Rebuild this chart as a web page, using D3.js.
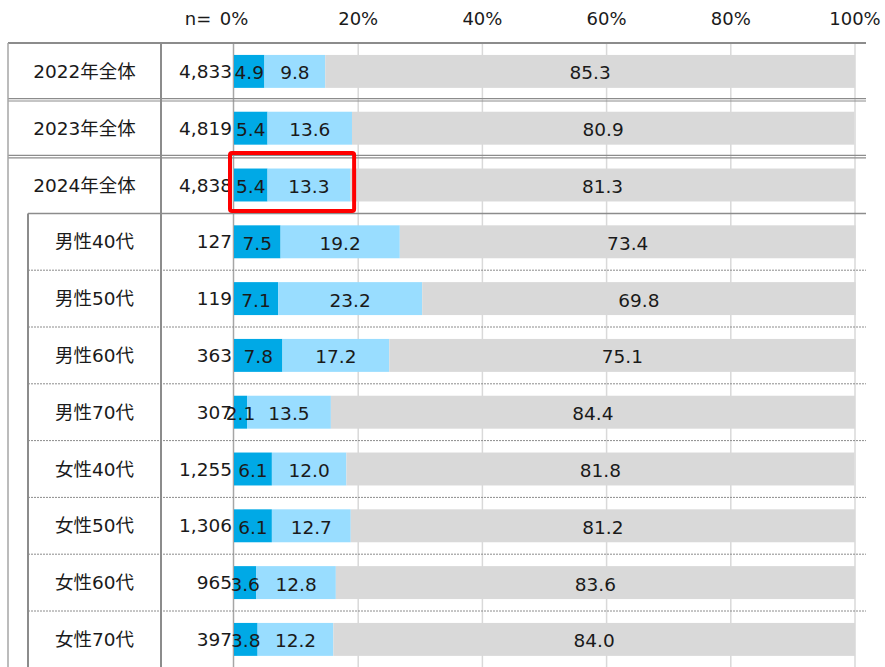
<!DOCTYPE html>
<html>
<head>
<meta charset="utf-8">
<script src="https://cdn.jsdelivr.net/npm/d3@7"></script>
<style>
    body { margin: 0; background: #fff; }
    text { font-family: "DejaVu Sans", "Noto Sans CJK JP", sans-serif; fill: #1a1a1a; }
</style>
</head>
<body>
<div id="chart"></div>
<script>
var categories = ["2022年全体", "2023年全体", "2024年全体", "男性40代", "男性50代", "男性60代", "男性70代",
    "女性40代", "女性50代", "女性60代", "女性70代"];
var nValues = ["4,833", "4,819", "4,838", "127", "119", "363", "307", "1,255", "1,306", "965", "397"];
var seriesA = [4.9, 5.4, 5.4, 7.5, 7.1, 7.8, 2.1, 6.1, 6.1, 3.6, 3.8];
var seriesB = [9.8, 13.6, 13.3, 19.2, 23.2, 17.2, 13.5, 12.0, 12.7, 12.8, 12.2];
var seriesC = [85.3, 80.9, 81.3, 73.4, 69.8, 75.1, 84.4, 81.8, 81.2, 83.6, 84.0];
var tickValues = [0, 20, 40, 60, 80, 100];
var totalRows = 3; // rows before the sub groups

var width = 885,
    height = 667,
    tableLeft = 8,
    groupLeft = 28,
    nCol = 161,
    tableRight = 866,
    topY = 43;

var svg = d3.select("#chart").append("svg")
    .attr("width", width)
    .attr("height", height);

var x = d3.scaleLinear().domain([0, 100]).range([234, 855]);
var y = d3.scaleBand().domain(categories).range([topY, topY + 56.8 * categories.length]);
var barH = y.bandwidth() * 0.58;

var colors = ["#00a9e6", "#99ddff", "#d9d9d9"];

var rows = categories.map(function(c, i) {
    return { cat: c, n: nValues[i], vals: [seriesA[i], seriesB[i], seriesC[i]] };
});

// gridlines
svg.selectAll(".grid")
    .data(tickValues.slice(1))
    .enter().append("line")
    .attr("x1", function(d) { return x(d); })
    .attr("x2", function(d) { return x(d); })
    .attr("y1", topY)
    .attr("y2", height)
    .style("stroke", "#d9d9d9")
    .style("stroke-width", 1.5);

// tick labels
svg.selectAll(".tick")
    .data(tickValues)
    .enter().append("text")
    .attr("x", function(d) { return x(d); })
    .attr("y", 18)
    .attr("text-anchor", "middle")
    .attr("dominant-baseline", "central")
    .style("font-size", "18px")
    .text(function(d) { return d + "%"; });

svg.append("text")
    .attr("x", 198)
    .attr("y", 18)
    .attr("text-anchor", "middle")
    .attr("dominant-baseline", "central")
    .style("font-size", "18px")
    .text("n=");

var rowG = svg.selectAll(".row")
    .data(rows)
    .enter().append("g")
    .attr("transform", function(d) { return "translate(0," + (y(d.cat) + y.bandwidth() / 2) + ")"; });

// n values (drawn under the bars)
rowG.append("text")
    .attr("x", 232)
    .attr("y", 0)
    .attr("text-anchor", "end")
    .attr("dominant-baseline", "central")
    .style("font-size", "18.5px")
    .text(function(d) { return d.n; });

// category labels
rowG.append("text")
    .attr("x", function(d, i) { return i < totalRows ? (tableLeft + nCol) / 2 : (groupLeft + nCol) / 2; })
    .attr("y", 0)
    .attr("text-anchor", "middle")
    .attr("dominant-baseline", "central")
    .style("font-size", "18.5px")
    .text(function(d) { return d.cat; });

// stacked segments
function segs(d) {
    var acc = 0;
    return d.vals.map(function(v, j) {
        var s = { x0: acc, x1: acc + v, v: v, j: j };
        acc += v;
        return s;
    });
}

rowG.selectAll("rect")
    .data(segs)
    .enter().append("rect")
    .attr("x", function(s) { return x(s.x0); })
    .attr("y", -barH / 2)
    .attr("width", function(s) { return x(s.x1) - x(s.x0); })
    .attr("height", barH)
    .style("fill", function(s) { return colors[s.j]; });

rowG.selectAll(".val")
    .data(segs)
    .enter().append("text")
    .attr("class", "val")
    .attr("x", function(s) { return (x(s.x0) + x(s.x1)) / 2; })
    .attr("y", 1.5)
    .attr("text-anchor", "middle")
    .attr("dominant-baseline", "central")
    .style("font-size", "18.5px")
    .text(function(s) { return s.v.toFixed(1); });

// table lines
var lineColor = "#8c8c8c";
svg.append("line")
    .attr("x1", tableLeft).attr("x2", tableRight)
    .attr("y1", topY).attr("y2", topY)
    .style("stroke", lineColor).style("stroke-width", 2);

// double lines between the total rows
[1, 2].forEach(function(i) {
    var yy = y(categories[i]);
    [-1.2, 1.2].forEach(function(off) {
        svg.append("line")
            .attr("x1", tableLeft).attr("x2", tableRight)
            .attr("y1", yy + off).attr("y2", yy + off)
            .style("stroke", lineColor).style("stroke-width", 1.2);
    });
});

// solid line under 2024
svg.append("line")
    .attr("x1", groupLeft).attr("x2", tableRight)
    .attr("y1", y(categories[totalRows])).attr("y2", y(categories[totalRows]))
    .style("stroke", lineColor).style("stroke-width", 1.5);

// dotted separators in sub groups
svg.selectAll(".sep")
    .data(categories.slice(totalRows + 1))
    .enter().append("line")
    .attr("x1", groupLeft).attr("x2", tableRight)
    .attr("y1", function(d) { return y(d); })
    .attr("y2", function(d) { return y(d); })
    .style("stroke", "#8c8c8c")
    .style("stroke-width", 1)
    .style("stroke-dasharray", "2,1");

// vertical lines
svg.append("line")
    .attr("x1", tableLeft).attr("x2", tableLeft)
    .attr("y1", topY).attr("y2", height)
    .style("stroke", "#a6a6a6").style("stroke-width", 1.5);
svg.append("line")
    .attr("x1", groupLeft).attr("x2", groupLeft)
    .attr("y1", y(categories[totalRows])).attr("y2", height)
    .style("stroke", lineColor).style("stroke-width", 2);
svg.append("line")
    .attr("x1", nCol).attr("x2", nCol)
    .attr("y1", topY).attr("y2", height)
    .style("stroke", lineColor).style("stroke-width", 2);
svg.insert("line", "g")
    .attr("x1", x(0) - 0.5).attr("x2", x(0) - 0.5)
    .attr("y1", topY).attr("y2", height)
    .style("stroke", "#a6a6a6").style("stroke-width", 1.5);

// highlight box around 2024
var hi = 2;
svg.append("rect")
    .attr("x", x(0) - 4)
    .attr("y", y(categories[hi]) - 3.5)
    .attr("width", x(seriesA[hi] + seriesB[hi]) - x(0) + 8)
    .attr("height", y.bandwidth() + 1)
    .attr("rx", 2)
    .style("fill", "none")
    .style("stroke", "#ff0000")
    .style("stroke-width", 4);
</script>
</body>
</html>
